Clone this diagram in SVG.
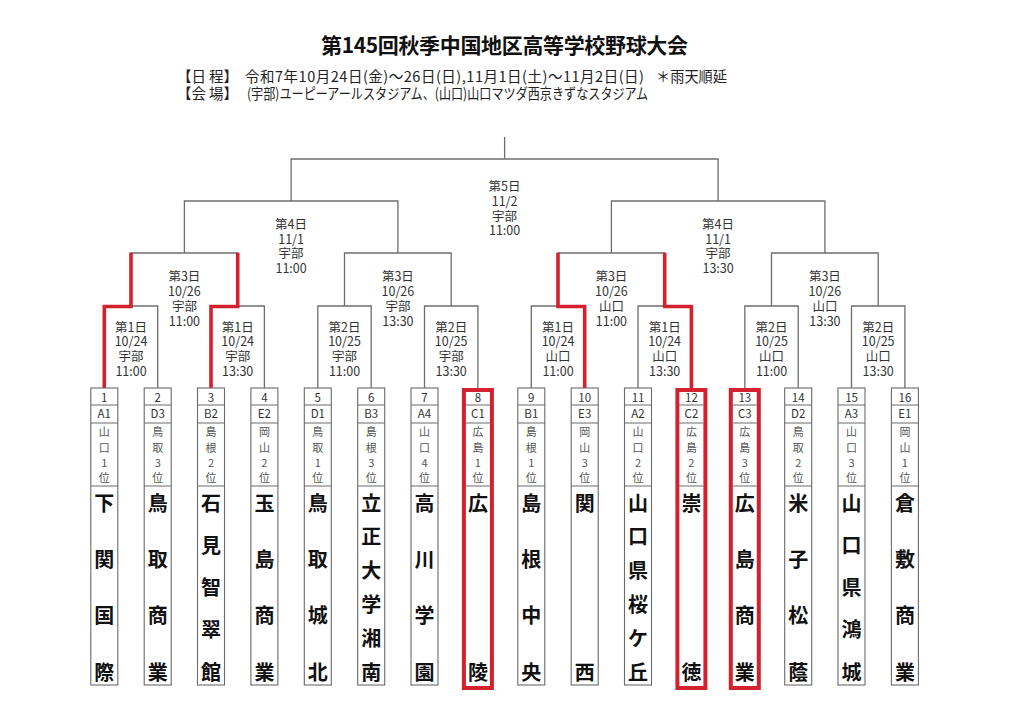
<svg xmlns="http://www.w3.org/2000/svg" width="1024" height="724" viewBox="0 0 1024 724">
<style>
text{font-family:"Noto Sans CJK JP","Noto Sans",sans-serif}
.ln{fill:none;stroke:#6e6e6e;stroke-width:1.3}
.win{fill:none;stroke:#d3222e;stroke-width:3.6;stroke-linejoin:miter;stroke-linecap:square}
.box{fill:#fff;stroke:#6a6a6a;stroke-width:1.1}
.boxr{fill:#fff;stroke:#d3222e;stroke-width:4}
.dv{fill:none;stroke:#6a6a6a;stroke-width:1}
.lbl{font-size:12.5px;fill:#333;text-anchor:middle}
.sm{font-size:11.5px;fill:#333;text-anchor:middle}
.pf{font-size:11px;fill:#555;text-anchor:middle}
.nm{font-size:20px;font-weight:700;fill:#111;text-anchor:middle}
.hd{font-size:14.5px;fill:#222}
</style>
<rect width="1024" height="724" fill="#fff"/>
<g id="header">
<text x="504.5" y="53" text-anchor="middle" font-size="21" font-weight="700" fill="#111" textLength="367" lengthAdjust="spacing">第145回秋季中国地区高等学校野球大会</text>
<text class="hd" x="177" y="82">【日</text>
<text class="hd" x="238" y="82" text-anchor="end">程】</text>
<text class="hd" x="245" y="82" textLength="399" lengthAdjust="spacing">令和7年10月24日(金)～26日(日),11月1日(土)～11月2日(日)</text>
<text class="hd" x="656" y="82" textLength="71" lengthAdjust="spacingAndGlyphs">＊雨天順延</text>
<text class="hd" x="177" y="99">【会</text>
<text class="hd" x="238" y="99" text-anchor="end">場】</text>
<text class="hd" x="247" y="99" font-size="14" textLength="401" lengthAdjust="spacingAndGlyphs">(宇部)ユーピーアールスタジアム、(山口)山口マツダ西京きずなスタジアム</text>
</g>
<g id="connectors">
<path class="ln" d="M104.3 388V306H157.7V388M211 388V306H264.4V388M317.8 388V306H371.2V388M424.5 388V306H477.9V388M131 306V253H237.7V306M344.5 306V253H451.2V306M184.4 253V201H397.9V253M291.1 201V159H718.1V201M504.6 159V137M531.3 388V306H584.7V388M638 388V306H691.4V388M744.8 388V306H798.2V388M851.5 388V306H904.9V388M558 306V253H664.7V306M771.5 306V253H878.2V306M611.4 253V201H824.9V253"/>
<path class="win" d="M104.3 388V306.5H131V254.5M211 388V306.5H237.7V254.5M584.7 388V306.5H558V254.5M691.4 388V306.5H664.7V254.5"/>
</g>
<g id="match-labels">
<text class="lbl"><tspan x="504.6" y="191">第5日</tspan><tspan x="504.6" y="206">11/2</tspan><tspan x="504.6" y="220.5">宇部</tspan><tspan x="504.6" y="235">11:00</tspan></text>
<text class="lbl"><tspan x="291.1" y="228.5">第4日</tspan><tspan x="291.1" y="243.5">11/1</tspan><tspan x="291.1" y="258">宇部</tspan><tspan x="291.1" y="272.5">11:00</tspan></text>
<text class="lbl"><tspan x="718.1" y="228.5">第4日</tspan><tspan x="718.1" y="243.5">11/1</tspan><tspan x="718.1" y="258">宇部</tspan><tspan x="718.1" y="272.5">13:30</tspan></text>
<text class="lbl"><tspan x="184.4" y="280.5">第3日</tspan><tspan x="184.4" y="295.5">10/26</tspan><tspan x="184.4" y="310.5">宇部</tspan><tspan x="184.4" y="325.5">11:00</tspan></text>
<text class="lbl"><tspan x="397.9" y="280.5">第3日</tspan><tspan x="397.9" y="295.5">10/26</tspan><tspan x="397.9" y="310.5">宇部</tspan><tspan x="397.9" y="325.5">13:30</tspan></text>
<text class="lbl"><tspan x="611.4" y="280.5">第3日</tspan><tspan x="611.4" y="295.5">10/26</tspan><tspan x="611.4" y="310.5">山口</tspan><tspan x="611.4" y="325.5">11:00</tspan></text>
<text class="lbl"><tspan x="824.9" y="280.5">第3日</tspan><tspan x="824.9" y="295.5">10/26</tspan><tspan x="824.9" y="310.5">山口</tspan><tspan x="824.9" y="325.5">13:30</tspan></text>
<text class="lbl"><tspan x="131" y="331.5">第1日</tspan><tspan x="131" y="346.3">10/24</tspan><tspan x="131" y="361">宇部</tspan><tspan x="131" y="376">11:00</tspan></text>
<text class="lbl"><tspan x="237.7" y="331.5">第1日</tspan><tspan x="237.7" y="346.3">10/24</tspan><tspan x="237.7" y="361">宇部</tspan><tspan x="237.7" y="376">13:30</tspan></text>
<text class="lbl"><tspan x="344.5" y="331.5">第2日</tspan><tspan x="344.5" y="346.3">10/25</tspan><tspan x="344.5" y="361">宇部</tspan><tspan x="344.5" y="376">11:00</tspan></text>
<text class="lbl"><tspan x="451.2" y="331.5">第2日</tspan><tspan x="451.2" y="346.3">10/25</tspan><tspan x="451.2" y="361">宇部</tspan><tspan x="451.2" y="376">13:30</tspan></text>
<text class="lbl"><tspan x="558" y="331.5">第1日</tspan><tspan x="558" y="346.3">10/24</tspan><tspan x="558" y="361">山口</tspan><tspan x="558" y="376">11:00</tspan></text>
<text class="lbl"><tspan x="664.7" y="331.5">第1日</tspan><tspan x="664.7" y="346.3">10/24</tspan><tspan x="664.7" y="361">山口</tspan><tspan x="664.7" y="376">13:30</tspan></text>
<text class="lbl"><tspan x="771.5" y="331.5">第2日</tspan><tspan x="771.5" y="346.3">10/25</tspan><tspan x="771.5" y="361">山口</tspan><tspan x="771.5" y="376">11:00</tspan></text>
<text class="lbl"><tspan x="878.2" y="331.5">第2日</tspan><tspan x="878.2" y="346.3">10/25</tspan><tspan x="878.2" y="361">山口</tspan><tspan x="878.2" y="376">13:30</tspan></text>
</g>
<g id="team-1" transform="translate(104.3 0)"><rect class="box" x="-13.5" y="388" width="27" height="297"/><path class="dv" d="M-13.5 405h27M-13.5 423h27M-13.5 486h27"/><text class="sm" x="0" y="402.3">1</text><text class="sm" x="0" y="418.3">A1</text><text class="pf"><tspan x="0" y="436.2">山</tspan><tspan x="0" y="451.7">口</tspan><tspan x="0" y="467.2">1</tspan><tspan x="0" y="482.2">位</tspan></text><text class="nm"><tspan x="0" y="510.5">下</tspan><tspan x="0" y="566.8">関</tspan><tspan x="0" y="623.2">国</tspan><tspan x="0" y="679.5">際</tspan></text></g>
<g id="team-2" transform="translate(157.7 0)"><rect class="box" x="-13.5" y="388" width="27" height="297"/><path class="dv" d="M-13.5 405h27M-13.5 423h27M-13.5 486h27"/><text class="sm" x="0" y="402.3">2</text><text class="sm" x="0" y="418.3">D3</text><text class="pf"><tspan x="0" y="436.2">鳥</tspan><tspan x="0" y="451.7">取</tspan><tspan x="0" y="467.2">3</tspan><tspan x="0" y="482.2">位</tspan></text><text class="nm"><tspan x="0" y="510.5">鳥</tspan><tspan x="0" y="566.8">取</tspan><tspan x="0" y="623.2">商</tspan><tspan x="0" y="679.5">業</tspan></text></g>
<g id="team-3" transform="translate(211 0)"><rect class="box" x="-13.5" y="388" width="27" height="297"/><path class="dv" d="M-13.5 405h27M-13.5 423h27M-13.5 486h27"/><text class="sm" x="0" y="402.3">3</text><text class="sm" x="0" y="418.3">B2</text><text class="pf"><tspan x="0" y="436.2">島</tspan><tspan x="0" y="451.7">根</tspan><tspan x="0" y="467.2">2</tspan><tspan x="0" y="482.2">位</tspan></text><text class="nm"><tspan x="0" y="510.5">石</tspan><tspan x="0" y="552.8">見</tspan><tspan x="0" y="595">智</tspan><tspan x="0" y="637.3">翠</tspan><tspan x="0" y="679.5">館</tspan></text></g>
<g id="team-4" transform="translate(264.4 0)"><rect class="box" x="-13.5" y="388" width="27" height="297"/><path class="dv" d="M-13.5 405h27M-13.5 423h27M-13.5 486h27"/><text class="sm" x="0" y="402.3">4</text><text class="sm" x="0" y="418.3">E2</text><text class="pf"><tspan x="0" y="436.2">岡</tspan><tspan x="0" y="451.7">山</tspan><tspan x="0" y="467.2">2</tspan><tspan x="0" y="482.2">位</tspan></text><text class="nm"><tspan x="0" y="510.5">玉</tspan><tspan x="0" y="566.8">島</tspan><tspan x="0" y="623.2">商</tspan><tspan x="0" y="679.5">業</tspan></text></g>
<g id="team-5" transform="translate(317.8 0)"><rect class="box" x="-13.5" y="388" width="27" height="297"/><path class="dv" d="M-13.5 405h27M-13.5 423h27M-13.5 486h27"/><text class="sm" x="0" y="402.3">5</text><text class="sm" x="0" y="418.3">D1</text><text class="pf"><tspan x="0" y="436.2">鳥</tspan><tspan x="0" y="451.7">取</tspan><tspan x="0" y="467.2">1</tspan><tspan x="0" y="482.2">位</tspan></text><text class="nm"><tspan x="0" y="510.5">鳥</tspan><tspan x="0" y="566.8">取</tspan><tspan x="0" y="623.2">城</tspan><tspan x="0" y="679.5">北</tspan></text></g>
<g id="team-6" transform="translate(371.2 0)"><rect class="box" x="-13.5" y="388" width="27" height="297"/><path class="dv" d="M-13.5 405h27M-13.5 423h27M-13.5 486h27"/><text class="sm" x="0" y="402.3">6</text><text class="sm" x="0" y="418.3">B3</text><text class="pf"><tspan x="0" y="436.2">島</tspan><tspan x="0" y="451.7">根</tspan><tspan x="0" y="467.2">3</tspan><tspan x="0" y="482.2">位</tspan></text><text class="nm"><tspan x="0" y="510.5">立</tspan><tspan x="0" y="544.3">正</tspan><tspan x="0" y="578.1">大</tspan><tspan x="0" y="611.9">学</tspan><tspan x="0" y="645.7">湘</tspan><tspan x="0" y="679.5">南</tspan></text></g>
<g id="team-7" transform="translate(424.5 0)"><rect class="box" x="-13.5" y="388" width="27" height="297"/><path class="dv" d="M-13.5 405h27M-13.5 423h27M-13.5 486h27"/><text class="sm" x="0" y="402.3">7</text><text class="sm" x="0" y="418.3">A4</text><text class="pf"><tspan x="0" y="436.2">山</tspan><tspan x="0" y="451.7">口</tspan><tspan x="0" y="467.2">4</tspan><tspan x="0" y="482.2">位</tspan></text><text class="nm"><tspan x="0" y="510.5">高</tspan><tspan x="0" y="566.8">川</tspan><tspan x="0" y="623.2">学</tspan><tspan x="0" y="679.5">園</tspan></text></g>
<g id="team-8" transform="translate(477.9 0)"><rect class="boxr" x="-14" y="390" width="28" height="298"/><path class="dv" d="M-12 405h24M-12 423h24M-12 486h24"/><text class="sm" x="0" y="402.3">8</text><text class="sm" x="0" y="418.3">C1</text><text class="pf"><tspan x="0" y="436.2">広</tspan><tspan x="0" y="451.7">島</tspan><tspan x="0" y="467.2">1</tspan><tspan x="0" y="482.2">位</tspan></text><text class="nm"><tspan x="0" y="511">広</tspan><tspan x="0" y="679.5">陵</tspan></text></g>
<g id="team-9" transform="translate(531.3 0)"><rect class="box" x="-13.5" y="388" width="27" height="297"/><path class="dv" d="M-13.5 405h27M-13.5 423h27M-13.5 486h27"/><text class="sm" x="0" y="402.3">9</text><text class="sm" x="0" y="418.3">B1</text><text class="pf"><tspan x="0" y="436.2">島</tspan><tspan x="0" y="451.7">根</tspan><tspan x="0" y="467.2">1</tspan><tspan x="0" y="482.2">位</tspan></text><text class="nm"><tspan x="0" y="510.5">島</tspan><tspan x="0" y="566.8">根</tspan><tspan x="0" y="623.2">中</tspan><tspan x="0" y="679.5">央</tspan></text></g>
<g id="team-10" transform="translate(584.7 0)"><rect class="box" x="-13.5" y="388" width="27" height="297"/><path class="dv" d="M-13.5 405h27M-13.5 423h27M-13.5 486h27"/><text class="sm" x="0" y="402.3">10</text><text class="sm" x="0" y="418.3">E3</text><text class="pf"><tspan x="0" y="436.2">岡</tspan><tspan x="0" y="451.7">山</tspan><tspan x="0" y="467.2">3</tspan><tspan x="0" y="482.2">位</tspan></text><text class="nm"><tspan x="0" y="510.5">関</tspan><tspan x="0" y="679.5">西</tspan></text></g>
<g id="team-11" transform="translate(638 0)"><rect class="box" x="-13.5" y="388" width="27" height="297"/><path class="dv" d="M-13.5 405h27M-13.5 423h27M-13.5 486h27"/><text class="sm" x="0" y="402.3">11</text><text class="sm" x="0" y="418.3">A2</text><text class="pf"><tspan x="0" y="436.2">山</tspan><tspan x="0" y="451.7">口</tspan><tspan x="0" y="467.2">2</tspan><tspan x="0" y="482.2">位</tspan></text><text class="nm"><tspan x="0" y="510.5">山</tspan><tspan x="0" y="544.3">口</tspan><tspan x="0" y="578.1">県</tspan><tspan x="0" y="611.9">桜</tspan><tspan x="0" y="645.7">ケ</tspan><tspan x="0" y="679.5">丘</tspan></text></g>
<g id="team-12" transform="translate(691.4 0)"><rect class="boxr" x="-14" y="390" width="28" height="298"/><path class="dv" d="M-12 405h24M-12 423h24M-12 486h24"/><text class="sm" x="0" y="402.3">12</text><text class="sm" x="0" y="418.3">C2</text><text class="pf"><tspan x="0" y="436.2">広</tspan><tspan x="0" y="451.7">島</tspan><tspan x="0" y="467.2">2</tspan><tspan x="0" y="482.2">位</tspan></text><text class="nm"><tspan x="0" y="510.5">崇</tspan><tspan x="0" y="679.5">徳</tspan></text></g>
<g id="team-13" transform="translate(744.8 0)"><rect class="boxr" x="-14" y="390" width="28" height="298"/><path class="dv" d="M-12 405h24M-12 423h24M-12 486h24"/><text class="sm" x="0" y="402.3">13</text><text class="sm" x="0" y="418.3">C3</text><text class="pf"><tspan x="0" y="436.2">広</tspan><tspan x="0" y="451.7">島</tspan><tspan x="0" y="467.2">3</tspan><tspan x="0" y="482.2">位</tspan></text><text class="nm"><tspan x="0" y="510.5">広</tspan><tspan x="0" y="566.8">島</tspan><tspan x="0" y="623.2">商</tspan><tspan x="0" y="679.5">業</tspan></text></g>
<g id="team-14" transform="translate(798.2 0)"><rect class="box" x="-13.5" y="388" width="27" height="297"/><path class="dv" d="M-13.5 405h27M-13.5 423h27M-13.5 486h27"/><text class="sm" x="0" y="402.3">14</text><text class="sm" x="0" y="418.3">D2</text><text class="pf"><tspan x="0" y="436.2">鳥</tspan><tspan x="0" y="451.7">取</tspan><tspan x="0" y="467.2">2</tspan><tspan x="0" y="482.2">位</tspan></text><text class="nm"><tspan x="0" y="510.5">米</tspan><tspan x="0" y="566.8">子</tspan><tspan x="0" y="623.2">松</tspan><tspan x="0" y="679.5">蔭</tspan></text></g>
<g id="team-15" transform="translate(851.5 0)"><rect class="box" x="-13.5" y="388" width="27" height="297"/><path class="dv" d="M-13.5 405h27M-13.5 423h27M-13.5 486h27"/><text class="sm" x="0" y="402.3">15</text><text class="sm" x="0" y="418.3">A3</text><text class="pf"><tspan x="0" y="436.2">山</tspan><tspan x="0" y="451.7">口</tspan><tspan x="0" y="467.2">3</tspan><tspan x="0" y="482.2">位</tspan></text><text class="nm"><tspan x="0" y="510.5">山</tspan><tspan x="0" y="552.8">口</tspan><tspan x="0" y="595">県</tspan><tspan x="0" y="637.3">鴻</tspan><tspan x="0" y="679.5">城</tspan></text></g>
<g id="team-16" transform="translate(904.9 0)"><rect class="box" x="-13.5" y="388" width="27" height="297"/><path class="dv" d="M-13.5 405h27M-13.5 423h27M-13.5 486h27"/><text class="sm" x="0" y="402.3">16</text><text class="sm" x="0" y="418.3">E1</text><text class="pf"><tspan x="0" y="436.2">岡</tspan><tspan x="0" y="451.7">山</tspan><tspan x="0" y="467.2">1</tspan><tspan x="0" y="482.2">位</tspan></text><text class="nm"><tspan x="0" y="510.5">倉</tspan><tspan x="0" y="566.8">敷</tspan><tspan x="0" y="623.2">商</tspan><tspan x="0" y="679.5">業</tspan></text></g>
</svg>
